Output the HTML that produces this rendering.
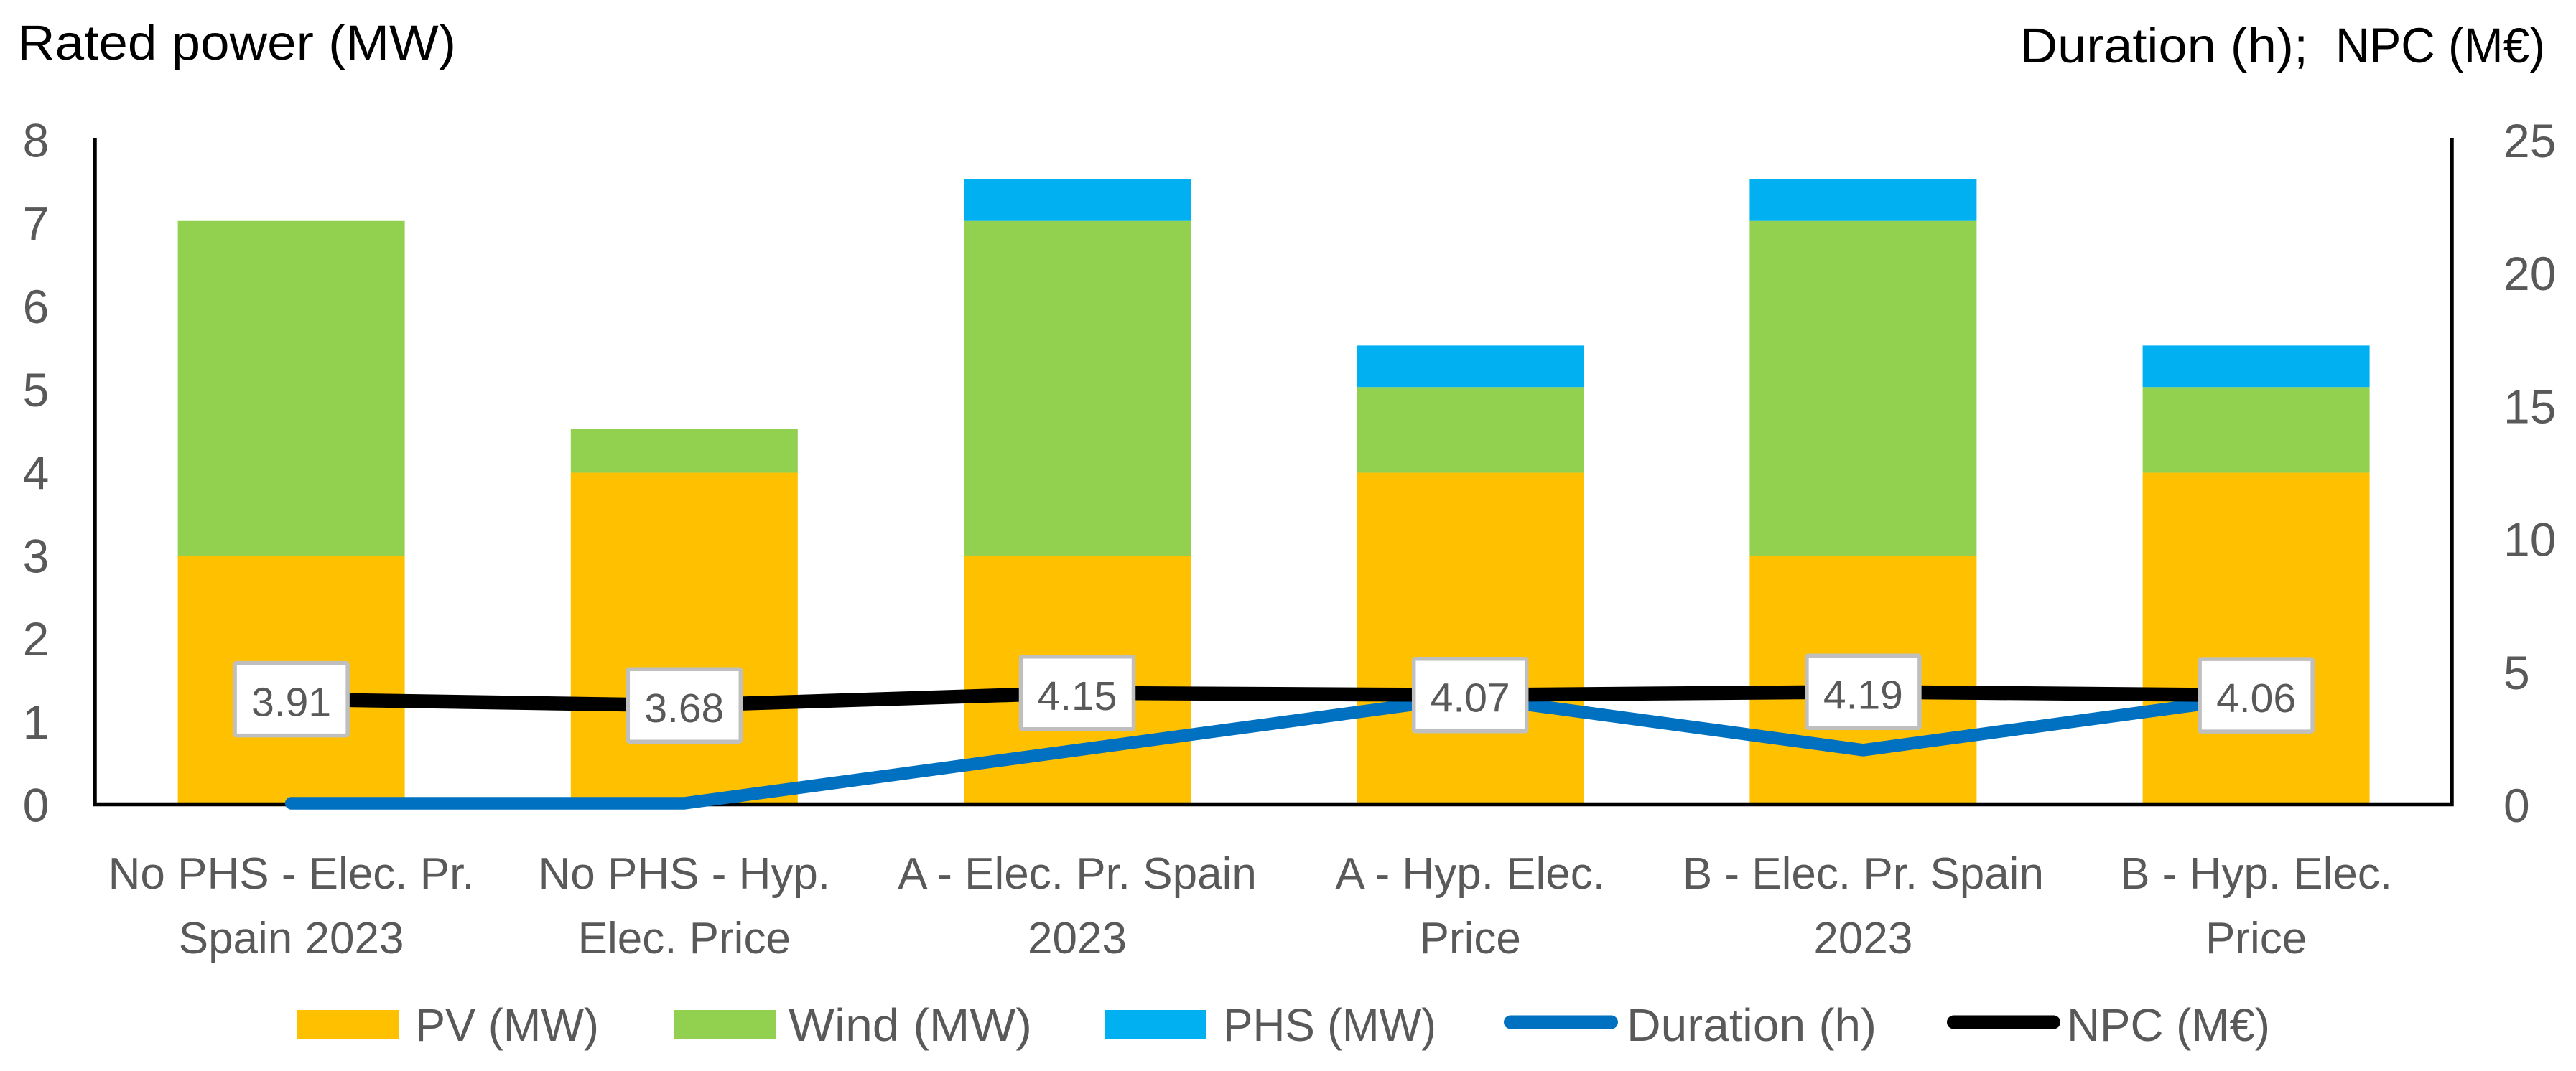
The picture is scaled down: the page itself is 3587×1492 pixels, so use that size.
<!DOCTYPE html>
<html lang="en">
<head>
<meta charset="utf-8">
<title>Rated power, duration and NPC</title>
<style>
html,body{margin:0;padding:0;background:#fff;}
svg{display:block;}
text{font-family:"Liberation Sans",sans-serif;}
</style>
</head>
<body>
<svg id="chart" xmlns="http://www.w3.org/2000/svg" width="3587" height="1492" viewBox="0 0 3587 1492">
  <rect x="0" y="0" width="3587" height="1492" fill="#ffffff"/>
  <g id="bars"></g>
  <path d="M132 192V1120.5H3414V192" fill="none" stroke="#000" stroke-width="5.5"/>
  <g id="lines"></g>
  <g id="point-labels"></g>
  <g id="left-ticks"></g>
  <g id="right-ticks"></g>
  <g id="category-labels"></g>

  <text x="24" y="83" font-size="68.5" fill="#000" textLength="611" lengthAdjust="spacingAndGlyphs">Rated power (MW)</text>
  <text x="2813" y="87" font-size="68.5" fill="#000" textLength="401" lengthAdjust="spacingAndGlyphs">Duration (h);</text>
  <text x="3252" y="87" font-size="68.5" fill="#000" textLength="292" lengthAdjust="spacingAndGlyphs">NPC (M€)</text>

  <g font-size="64" fill="#595959">
    <g>
      <rect x="414" y="1407" width="141" height="40" fill="#FFC000"/>
      <text x="578" y="1450" textLength="256" lengthAdjust="spacingAndGlyphs">PV (MW)</text>
    </g>
    <g>
      <rect x="939" y="1407" width="141" height="40" fill="#92D050"/>
      <text x="1098" y="1450" textLength="339" lengthAdjust="spacingAndGlyphs">Wind (MW)</text>
    </g>
    <g>
      <rect x="1539" y="1407" width="141" height="40" fill="#00B0F0"/>
      <text x="1703" y="1450" textLength="297" lengthAdjust="spacingAndGlyphs">PHS (MW)</text>
    </g>
    <g>
      <line x1="2103.5" y1="1424" x2="2243.5" y2="1424" stroke="#0070C0" stroke-width="19" stroke-linecap="round"/>
      <text x="2265" y="1450" textLength="348" lengthAdjust="spacingAndGlyphs">Duration (h)</text>
    </g>
    <g>
      <line x1="2720.5" y1="1424" x2="2859.5" y2="1424" stroke="#000" stroke-width="19" stroke-linecap="round"/>
      <text x="2878" y="1450" textLength="283" lengthAdjust="spacingAndGlyphs">NPC (M€)</text>
    </g>
  </g>
</svg>
<script>
var categories = [
  ["No PHS - Elec. Pr.", "Spain 2023"],
  ["No PHS - Hyp.", "Elec. Price"],
  ["A - Elec. Pr. Spain", "2023"],
  ["A - Hyp. Elec.", "Price"],
  ["B - Elec. Pr. Spain", "2023"],
  ["B - Hyp. Elec.", "Price"]
];
var pvValues = [2.97, 3.97, 2.97, 3.97, 2.97, 3.97];
var windValues = [4.03, 0.53, 4.03, 1.03, 4.03, 1.03];
var phsValues = [0, 0, 0.5, 0.5, 0.5, 0.5];
var durationValues = [0, 0, 2, 4, 2, 4];
var npcValues = [3.91, 3.68, 4.15, 4.07, 4.19, 4.06];
var leftTicks = [0, 1, 2, 3, 4, 5, 6, 7, 8];
var rightTicks = [0, 5, 10, 15, 20, 25];

var NS = "http://www.w3.org/2000/svg";
function xc(i) { return 132 + 547.2 * (i + 0.5); }
function yL(v) { return 1118 - v * 115.75; }
function yR(v) { return 1119 - v * 37.04; }
function make(tag, attrs, parent) {
  var el = document.createElementNS(NS, tag);
  for (var k in attrs) { el.setAttribute(k, attrs[k]); }
  parent.appendChild(el);
  return el;
}

var barsG = document.getElementById("bars");
var stacks = [
  { key: "pv", values: pvValues, color: "#FFC000" },
  { key: "wind", values: windValues, color: "#92D050" },
  { key: "phs", values: phsValues, color: "#00B0F0" }
];
categories.forEach(function (cat, i) {
  var base = 0;
  stacks.forEach(function (s) {
    var v = s.values[i];
    if (v > 0) {
      var r = make("rect", { x: xc(i) - 158, y: yL(base + v), width: 316, height: yL(base) - yL(base + v), fill: s.color }, barsG);
      
      
    }
    base += v;
  });
});

var linesG = document.getElementById("lines");
function pointsFor(values) {
  return values.map(function (v, i) { return xc(i) + "," + yR(v); }).join(" ");
}
var durationLine = make("polyline", { points: pointsFor(durationValues), fill: "none", stroke: "#0070C0", "stroke-width": 17.5, "stroke-linecap": "round", "stroke-linejoin": "round" }, linesG);


var npcLine = make("polyline", { points: pointsFor(npcValues), fill: "none", stroke: "#000000", "stroke-width": 19.5, "stroke-linecap": "round", "stroke-linejoin": "round" }, linesG);



var labelsG = document.getElementById("point-labels");
npcValues.forEach(function (v, i) {
  var cx = xc(i), cy = yR(v);
  var box = make("rect", { x: cx - 78.5, y: cy - 50.5, width: 157, height: 101, rx: 2, fill: "#ffffff", stroke: "#BFBFBF", "stroke-width": 5.5 }, labelsG);
  
  
  var t = make("text", { x: cx, y: cy + 23.5, "text-anchor": "middle", "font-size": 57, fill: "#595959" }, labelsG);
  t.textContent = v.toFixed(2);
  
  
});

var leftG = document.getElementById("left-ticks");
leftTicks.forEach(function (v) {
  var t = make("text", { x: 50, y: yL(v) + 26.5, "text-anchor": "middle", "font-size": 66, fill: "#595959" }, leftG);
  t.textContent = String(v);
  
  
});

var rightG = document.getElementById("right-ticks");
rightTicks.forEach(function (v) {
  var t = make("text", { x: 3486, y: yR(v) + 26, "font-size": 66, fill: "#595959" }, rightG);
  t.textContent = String(v);
  
  
});

var catG = document.getElementById("category-labels");
categories.forEach(function (lines, i) {
  lines.forEach(function (line, j) {
    var t = make("text", { x: xc(i), y: 1238 + j * 90, "text-anchor": "middle", "font-size": 62, fill: "#595959" }, catG);
    t.textContent = line;
    
    
  });
});
</script>
</body>
</html>
